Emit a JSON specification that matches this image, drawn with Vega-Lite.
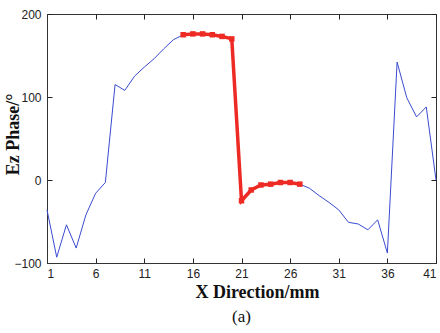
{
  "$schema": "https://vega.github.io/schema/vega-lite/v6.json",
  "width": 389,
  "height": 249,
  "autosize": {"type": "none"},
  "padding": {"left": 47, "top": 14, "right": 4, "bottom": 70},
  "background": "white",
  "config": {
    "view": {"stroke": "#333333", "strokeWidth": 1},
    "axis": {
      "domainColor": "#333333",
      "labelFont": "Liberation Sans",
      "labelFontSize": 12,
      "labelColor": "#222222",
      "titleFont": "Liberation Serif",
      "titleFontWeight": "bold",
      "titleFontSize": 18,
      "titleColor": "#111111"
    }
  },
  "title": {
    "text": "(a)",
    "orient": "bottom",
    "anchor": "middle",
    "font": "Liberation Serif",
    "fontSize": 17,
    "fontWeight": "normal",
    "color": "#111111",
    "offset": 8
  },
  "data": {
    "values": [
      {"x": 1, "y": -36}, {"x": 2, "y": -93}, {"x": 3, "y": -54}, {"x": 4, "y": -82},
      {"x": 5, "y": -42}, {"x": 6, "y": -16}, {"x": 7, "y": -3}, {"x": 8, "y": 115},
      {"x": 9, "y": 108}, {"x": 10, "y": 125}, {"x": 11, "y": 136}, {"x": 12, "y": 146},
      {"x": 13, "y": 158}, {"x": 14, "y": 169}, {"x": 15, "y": 175}, {"x": 16, "y": 176},
      {"x": 17, "y": 176}, {"x": 18, "y": 175}, {"x": 19, "y": 173}, {"x": 20, "y": 170},
      {"x": 21, "y": -25}, {"x": 22, "y": -12}, {"x": 23, "y": -6}, {"x": 24, "y": -5},
      {"x": 25, "y": -3}, {"x": 26, "y": -3}, {"x": 27, "y": -5}, {"x": 28, "y": -10},
      {"x": 29, "y": -19}, {"x": 30, "y": -27}, {"x": 31, "y": -36}, {"x": 32, "y": -51},
      {"x": 33, "y": -53}, {"x": 34, "y": -60}, {"x": 35, "y": -48}, {"x": 36, "y": -88},
      {"x": 37, "y": 142}, {"x": 38, "y": 99}, {"x": 39, "y": 76}, {"x": 40, "y": 88},
      {"x": 41, "y": 0}
    ]
  },
  "layer": [
    {
      "mark": {"type": "line", "color": "#3a4bd0", "strokeWidth": 1},
      "encoding": {
        "x": {
          "field": "x", "type": "quantitative",
          "scale": {"domain": [1, 41], "nice": false, "zero": false},
          "axis": {"values": [1, 6, 11, 16, 21, 26, 31, 36, 41], "grid": true, "gridColor": "#222222", "gridWidth": 1, "gridOpacity": 1, "gridDash": [5, 239, 5, 1000], "ticks": false, "tickSize": 0, "title": "X Direction/mm", "labelPadding": 5, "titlePadding": 4, "titleX": 210}
        },
        "y": {
          "field": "y", "type": "quantitative",
          "scale": {"domain": [-100, 200], "nice": false},
          "axis": {"values": [-100, 0, 100, 200], "grid": true, "gridColor": "#222222", "gridWidth": 1, "gridOpacity": 1, "gridDash": [5, 379, 5, 1000], "ticks": false, "tickSize": 0, "title": "Ez Phase/°", "labelPadding": 6, "titleX": -29, "titleY": 120, "titleBaseline": "alphabetic", "titleAlign": "center", "titleAngle": -90}
        }
      }
    },
    {
      "mark": {"type": "line", "color": "#ee2a24", "strokeWidth": 3.5, "point": {"filled": true, "color": "#ee2a24", "size": 30, "shape": "square"}},
      "transform": [{"filter": "datum.x >= 15 && datum.x <= 27"}],
      "encoding": {
        "x": {"field": "x", "type": "quantitative"},
        "y": {"field": "y", "type": "quantitative"}
      }
    }
  ]
}
